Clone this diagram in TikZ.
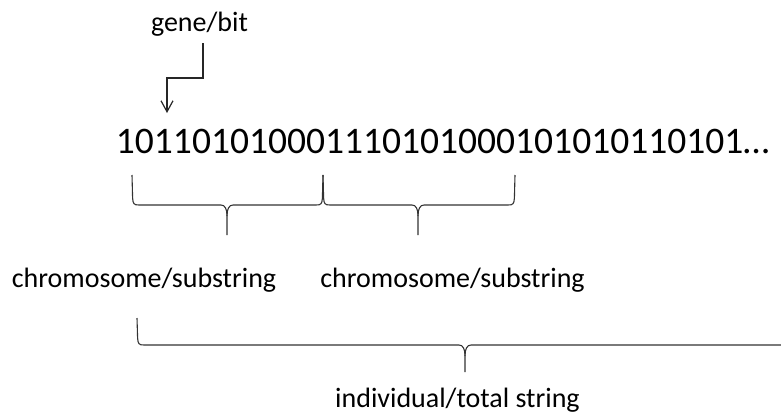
\documentclass[tikz,border=0pt]{standalone}
\usepackage{fontspec}
\setmainfont{Carlito}
\usetikzlibrary{arrows.meta}
\tikzset{
  lbl/.style={inner sep=0pt, anchor=base, font=\fontsize{28}{30}\selectfont},
  bits/.style={inner sep=0pt, anchor=base, font=\fontsize{37.5}{40}\selectfont},
  line/.style={line width=1.2pt, draw=black!85},
  bracepath/.style={line width=1.1pt, draw=black!80}
}
\newcommand{\mybrace}[6]{% xl, xm, xr, yt, yh, yb
  \draw[bracepath] (#1,#4) -- (#1+0.6,#5-7) .. controls (#1+1,#5-1) and (#1+2,#5) .. (#1+7,#5)
    -- (#2-6,#5) .. controls (#2-2,#5) and (#2,#5+4) .. (#2,#5+11) -- (#2,#6);
  \draw[bracepath] (#2,#5+11) .. controls (#2,#5+4) and (#2+2,#5) .. (#2+6,#5)
    -- (#3-7,#5) .. controls (#3-2,#5) and (#3-1,#5-1) .. (#3-0.6,#5-7) -- (#3,#4);
}
\begin{document}
\begin{tikzpicture}[x=1pt,y=-1pt]
  \useasboundingbox (0,0) rectangle (781,413);
  \clip (0,0) rectangle (781,413);
  \node[lbl] (gene) at (199.5,31) {gene/bit};
  \node[bits] (str) at (442.5,153) {101101010001110101000101010110101…};
  \coordinate (a0) at (203,43);
  \coordinate (a1) at (203,78);
  \coordinate (a2) at (167,78);
  \coordinate (a3) at (167,113);
  \draw[line, -{Straight Barb[length=11pt,width=12pt]}] (a0) -- (a1) -- (a2) -- (a3);
  \mybrace{132}{227}{323}{175}{205}{235}
  \mybrace{323}{418}{515}{175}{205}{235}
  \mybrace{137}{465}{793}{318}{345}{372}
  \node[lbl] (c1) at (144,287) {chromosome/substring};
  \node[lbl] (c2) at (452.5,287) {chromosome/substring};
  \node[lbl] (ind) at (457.5,407) {individual/total string};
\end{tikzpicture}
\end{document}
